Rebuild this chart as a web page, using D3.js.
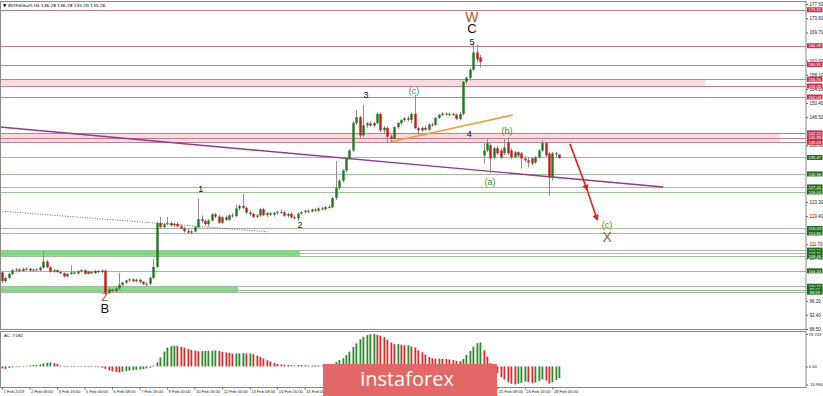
<!DOCTYPE html>
<html>
<head>
<meta charset="utf-8">
<script src="https://cdn.jsdelivr.net/npm/d3@7"></script>
<style>
  html, body { margin: 0; padding: 0; background: #fff; }
  svg { display: block; font-family: "Liberation Sans", Arial, sans-serif; }
</style>
</head>
<body>
<svg id="chart" width="823" height="396"></svg>
<script>
// ETH H4 candles (one entry per bar, 1 Feb 00:00 .. 28 Feb 08:00)
const opens = [
  104.0,101.6,102.5,103.6,104.6,104.8,104.4,104.9,105.0,104.5,
  104.8,104.6,105.3,107.0,105.4,104.2,104.6,104.1,103.8,102.9,
  103.6,104.0,103.7,104.3,104.6,103.6,104.2,103.8,104.4,104.1,
  104.5,98.4,99.3,98.9,99.6,100.6,101.2,101.8,102.1,101.6,
  102.0,101.4,100.8,100.9,102.5,105.5,117.5,116.4,117.2,117.5,
  116.9,117.3,116.6,116.0,115.3,114.9,115.2,116.4,118.6,118.1,
  117.2,118.2,119.9,119.3,117.6,119.1,118.4,119.6,119.4,121.5,
  122.2,121.7,120.4,120.0,119.2,119.6,121.3,119.7,120.2,119.8,
  120.3,120.6,120.4,119.5,120.0,119.1,118.8,120.1,120.5,120.9,
  120.7,121.2,120.9,121.5,121.3,121.9,121.8,124.4,127.2,129.1,
  131.9,135.2,137.4,144.9,146.5,141.5,144.3,144.8,144.2,144.9,
  147.4,142.9,143.6,141.2,140.6,143.8,144.9,145.7,146.2,145.8,
  147.4,143.5,142.9,143.6,143.1,144.5,144.4,146.3,147.1,147.5,
  147.3,147.4,147.2,146.0,147.4,156.2,157.3,159.5,164.2,162.9,
  136.0,137.4,138.8,135.5,138.0,137.4,136.6,139.6,137.4,135.5,
  136.9,136.6,135.2,134.7,135.2,134.1,135.5,137.4,139.4,136.6,
  130.0,136.6,136.28
];
const highs = [
  104.3,102.8,103.9,105.0,105.2,105.1,105.3,105.4,105.2,105.0,
  105.1,105.6,109.8,107.4,105.7,104.9,104.8,104.5,104.0,103.8,
  105.9,104.4,104.6,104.9,104.8,104.5,104.4,104.7,104.6,104.8,
  104.7,99.8,99.6,100.0,103.9,101.4,102.0,102.4,102.4,102.3,
  102.2,101.6,101.2,102.9,107.6,117.9,119.2,117.6,119.2,118.0,
  117.6,117.8,117.2,116.5,115.9,115.6,116.8,124.2,119.6,118.4,
  118.6,120.3,120.4,119.7,119.4,119.6,119.9,120.2,122.6,122.6,
  125.5,122.0,121.0,120.4,120.0,121.6,121.7,120.5,120.6,120.5,
  121.0,121.2,121.0,120.3,120.5,119.6,120.4,120.8,121.2,121.3,
  121.5,121.6,121.8,122.0,122.2,122.5,124.7,134.5,129.5,132.3,
  135.6,137.8,145.5,148.5,146.9,149.9,145.2,145.5,145.1,147.8,
  147.8,144.1,144.0,141.8,144.0,145.2,146.0,146.5,146.8,147.8,
  152.6,143.8,143.9,144.2,144.8,145.0,146.6,147.5,147.9,147.8,
  147.8,147.7,147.6,147.9,156.5,157.6,160.0,167.0,166.4,163.5,
  139.4,140.7,139.4,138.5,138.6,137.9,140.7,141.0,138.0,137.4,
  137.2,137.0,135.8,135.6,135.6,135.8,137.8,140.2,139.8,137.0,
  137.0,137.0,136.28
];
const lows = [
  101.0,101.2,102.2,103.3,104.0,104.1,104.2,104.5,104.2,104.1,
  104.3,104.4,105.0,105.2,104.0,103.9,103.9,103.5,102.6,102.7,
  103.3,103.4,103.5,104.0,103.4,103.4,103.5,103.6,103.7,103.8,
  97.9,98.0,98.6,98.5,99.2,100.0,100.9,101.4,101.3,101.2,
  101.1,100.5,100.2,100.6,102.2,105.2,116.0,116.0,116.8,116.6,
  116.4,116.3,115.8,114.9,114.5,114.4,115.0,116.1,117.6,116.8,
  116.5,117.9,118.8,117.3,117.2,118.0,118.1,119.0,119.1,121.0,
  121.3,120.0,119.5,118.9,118.8,119.2,119.4,119.2,119.4,119.3,
  119.8,120.0,119.2,119.0,118.7,118.4,118.1,119.8,120.1,120.3,
  120.4,120.6,120.6,121.0,121.0,121.5,121.6,123.8,126.5,128.6,
  131.5,134.8,137.0,144.4,140.8,141.0,143.6,143.9,143.7,144.5,
  142.4,142.1,139.6,139.7,140.3,143.3,144.4,145.2,145.4,144.8,
  143.3,141.6,142.5,142.8,142.7,143.9,144.1,146.0,146.7,146.9,
  146.8,146.9,145.8,145.6,147.0,155.5,156.6,159.2,161.5,160.1,
  133.8,136.9,131.1,135.0,136.2,135.0,136.1,136.2,135.0,135.2,
  135.5,132.4,134.2,132.7,133.4,133.7,135.2,137.0,135.6,125.0,
  129.1,135.5,135.20
];
const closes = [
  101.6,102.5,103.6,104.6,104.8,104.4,104.9,105.0,104.5,104.8,
  104.6,105.3,107.0,105.4,104.2,104.6,104.1,103.8,102.9,103.6,
  104.0,103.7,104.3,104.6,103.6,104.2,103.8,104.4,104.1,104.5,
  98.4,99.3,98.9,99.6,100.6,101.2,101.8,102.1,101.6,102.0,
  101.4,100.8,100.9,102.5,105.5,117.5,116.4,117.2,117.5,116.9,
  117.3,116.6,116.0,115.3,114.9,115.2,116.4,118.6,118.1,117.2,
  118.2,119.9,119.3,117.6,119.1,118.4,119.6,119.4,121.5,122.2,
  121.7,120.4,120.0,119.2,119.6,121.3,119.7,120.2,119.8,120.3,
  120.6,120.4,119.5,120.0,119.1,118.8,120.1,120.5,120.9,120.7,
  121.2,120.9,121.5,121.3,121.9,121.8,124.4,127.2,129.1,131.9,
  135.2,137.4,144.9,146.5,141.5,144.3,144.8,144.2,144.9,147.4,
  142.9,143.6,141.2,140.6,143.8,144.9,145.7,146.2,145.8,147.4,
  143.5,142.9,143.6,143.1,144.5,144.4,146.3,147.1,147.5,147.3,
  147.4,147.2,146.0,147.4,156.2,157.3,159.5,164.2,162.3,161.6,
  137.4,139.4,135.2,138.0,136.6,135.5,138.2,136.6,135.5,136.9,
  136.0,135.2,134.7,134.1,133.8,135.5,137.4,139.4,136.0,130.0,
  136.6,136.3,135.26
];

// Accelerator oscillator, one value per bar
const acValues = [
  -1.2,-1.5,-1.0,-0.6,-0.4,-0.5,0.3,0.4,0.6,0.8,
  1.0,1.2,1.8,2.2,2.4,2.0,1.5,0.5,0.3,0.2,
  0.1,-0.1,0.1,0.2,0.1,-0.1,-0.2,-0.3,-0.4,-0.8,
  -1.5,-2.4,-3.0,-3.4,-3.6,-3.2,-2.8,-2.5,-2.3,-2.0,
  -1.9,-1.6,-1.2,-0.8,0.5,2.5,5.5,9.0,11.5,12.3,
  12.5,12.4,12.0,11.4,10.6,10.0,9.6,9.2,9.3,9.4,
  9.5,9.6,9.7,9.4,8.9,8.5,8.2,7.8,7.9,8.0,
  8.1,7.8,7.9,7.4,6.6,5.8,4.8,3.8,3.0,2.2,
  1.6,1.2,1.0,0.8,0.7,0.6,0.7,0.8,0.7,0.6,
  0.6,0.7,0.6,0.5,0.6,0.7,1.2,2.7,3.9,5.0,
  6.8,9.0,11.8,14.0,16.5,18.0,19.0,19.6,19.703,19.3,
  18.7,17.8,16.2,14.6,13.5,13.6,13.2,12.8,12.9,12.1,
  11.5,9.8,8.6,7.2,5.8,5.0,4.7,4.8,4.6,4.5,
  4.2,3.9,3.4,3.2,4.5,7.0,9.4,12.0,14.1,14.6,
  9.8,6.0,2.0,-1.5,-4.0,-6.5,-8.0,-9.5,-10.5,-10.984,
  -10.5,-10.0,-9.2,-9.6,-10.2,-9.8,-8.9,-7.9,-8.6,-10.4,
  -9.7,-8.3,-7.082
];

// time scale labels that show (the ones under the watermark are left out)
const timeTickBars = [0, 8, 16, 24, 32, 40, 48, 56, 64, 72, 80, 88, 144, 152, 160];
const timeLabels = [
  '1 Feb 2019','2 Feb 08:00','3 Feb 16:00','5 Feb 00:00','6 Feb 08:00','7 Feb 16:00',
  '9 Feb 00:00','10 Feb 16:00','12 Feb 00:00','13 Feb 08:00','14 Feb 16:00','16 Feb 00:00',
  '25 Feb 08:00','26 Feb 16:00','28 Feb 00:00'
];
// price scale labels that are not hidden under the level tags
const priceTickLabels = [
  '177.50','173.60','169.70','162.00','158.10','154.20','150.40','146.50',
  '138.80','123.30','119.40','111.70','107.80','96.20','92.40','88.50'
];
const acTickLabels = ['19.703', '0.00', '-10.984'];

// horizontal levels
const resistLevels = [175.92, 166.08, 160.91, 156.91, 155.06, 152.03, 142.22, 140.89, 139.63];
const supportLevels = [135.47, 130.96, 127.41, 126.03, 116.03, 114.80, 110.11, 109.31, 108.46, 104.43, 100.21, 99.31, 98.59];
// zones: [low, high, last bar index covered]
const resistZones = [[155.06, 156.91, 204.4], [139.63, 142.22, 226.2]];
const supportZones = [[108.46, 110.11, 86.6], [98.59, 100.21, 68.6]];

// drawn lines: [bar index, price]
const purpleLine = [[-0.6, 143.8], [192.2, 127.4]];
const dottedLine = [[-0.6, 120.8], [77.3, 115.1]];
const orangeLine = [[112.8, 139.7], [148.5, 147.1]];
const arrowPoints = [[165.1, 139.2], [170.1, 126.6], [173.0, 118.4]];

// wave labels: [text, bar index, price, kind]
const waveLabels = [
  ['W', 136.6, 173.9, 'brown'],
  ['C', 136.6, 170.7, 'major'],
  ['5', 136.6, 167.1, 'minor'],
  ['3', 105.8, 152.6, 'minor'],
  ['(c)', 119.8, 153.7, 'sub'],
  ['4', 135.8, 141.9, 'minor'],
  ['(b)', 146.8, 142.7, 'sub'],
  ['(a)', 141.9, 128.8, 'sub'],
  ['1', 57.8, 126.8, 'minor'],
  ['2', 86.6, 117.0, 'minor'],
  ['Z', 29.9, 97.3, 'brownSmall'],
  ['B', 29.9, 94.0, 'major'],
  ['(c)', 175.9, 117.0, 'sub'],
  ['X', 175.9, 113.7, 'brown']
];

const svg = d3.select('#chart');
const plotRight = 806;
const mainTop = 1.5, mainBottom = 329.5;
const acTop = 331.5, acBottom = 387.5;

const x = d3.scaleLinear().domain([0, 233]).range([2, 803.5]);
const y = d3.scaleLinear().domain([88.5, 177.5]).range([329, 4]);
const yAc = d3.scaleLinear().domain([-10.984, 19.703]).range([384.5, 334]);

const defs = svg.append('defs');
defs.append('clipPath').attr('id', 'clipMain')
  .append('rect').attr('x', 0).attr('y', mainTop).attr('width', plotRight).attr('height', mainBottom - mainTop);
defs.append('marker')
  .attr('id', 'arrowHead')
  .attr('viewBox', '0 0 10 10')
  .attr('refX', 8).attr('refY', 5)
  .attr('markerWidth', 4).attr('markerHeight', 4)
  .attr('orient', 'auto')
  .append('path').attr('d', 'M0,0 L10,5 L0,10 z').attr('fill', '#e3201b');

const main = svg.append('g').attr('clip-path', 'url(#clipMain)');

// zones
main.selectAll('.rzone').data(resistZones).enter().append('rect')
  .attr('x', 0).attr('y', d => y(d[1]))
  .attr('width', d => x(d[2]))
  .attr('height', d => y(d[0]) - y(d[1]))
  .attr('fill', '#f9dadf');
main.selectAll('.szone').data(supportZones).enter().append('rect')
  .attr('x', 0).attr('y', d => y(d[1]))
  .attr('width', d => x(d[2]))
  .attr('height', d => y(d[0]) - y(d[1]))
  .attr('fill', '#7ee07e');

// level lines
main.selectAll('.rline').data(resistLevels).enter().append('line')
  .attr('x1', 0).attr('x2', plotRight)
  .attr('y1', d => Math.round(y(d)) + 0.5).attr('y2', d => Math.round(y(d)) + 0.5)
  .attr('stroke', '#c27d90').attr('stroke-width', 1);
main.selectAll('.sline').data(supportLevels).enter().append('line')
  .attr('x1', 0).attr('x2', plotRight)
  .attr('y1', d => Math.round(y(d)) + 0.5).attr('y2', d => Math.round(y(d)) + 0.5)
  .attr('stroke', '#9dbd9d').attr('stroke-width', 1);

const line = d3.line().x(d => x(d[0])).y(d => y(d[1]));

main.append('path').attr('d', line(dottedLine))
  .attr('fill', 'none').attr('stroke', '#666').attr('stroke-width', 1)
  .attr('stroke-dasharray', '1,1.5');
main.append('path').attr('d', line(purpleLine))
  .attr('fill', 'none').attr('stroke', '#8e3a92').attr('stroke-width', 1.4);
main.append('path').attr('d', line(orangeLine))
  .attr('fill', 'none').attr('stroke', '#f0a033').attr('stroke-width', 1.6);

// candles
const bars = d3.range(opens.length);
const candle = main.selectAll('.candle').data(bars).enter().append('g');
candle.append('line')
  .attr('x1', i => Math.round(x(i)) + 0.5).attr('x2', i => Math.round(x(i)) + 0.5)
  .attr('y1', i => y(highs[i])).attr('y2', i => y(lows[i]))
  .attr('stroke', '#8f8f8f').attr('stroke-width', 1);
candle.append('rect')
  .attr('x', i => Math.round(x(i)) - 0.7)
  .attr('width', 2.4)
  .attr('y', i => y(Math.max(opens[i], closes[i])))
  .attr('height', i => Math.max(1, Math.abs(y(opens[i]) - y(closes[i]))))
  .attr('fill', i => closes[i] >= opens[i] ? '#1f7a1f' : '#c01c1c');

// red projection arrow
for (let k = 0; k < arrowPoints.length - 1; k++) {
  main.append('path')
    .attr('d', line([arrowPoints[k], arrowPoints[k + 1]]))
    .attr('fill', 'none').attr('stroke', '#e3201b').attr('stroke-width', 1.6)
    .attr('marker-end', 'url(#arrowHead)');
}

// wave labels
const labelStyle = {
  brown: { color: '#a75a33', size: 14 },
  brownSmall: { color: '#a75a33', size: 11 },
  major: { color: '#111', size: 13 },
  minor: { color: '#111', size: 9 },
  sub: { color: '#3c8c3c', size: 9 }
};
main.selectAll('.wave').data(waveLabels).enter().append('text')
  .attr('x', d => x(d[1])).attr('y', d => y(d[2]))
  .attr('text-anchor', 'middle').attr('dominant-baseline', 'central')
  .attr('fill', d => labelStyle[d[3]].color)
  .attr('font-size', d => labelStyle[d[3]].size)
  .text(d => d[0]);

// title
svg.append('text').attr('x', 3).attr('y', 6.5).attr('font-size', 4.3).attr('fill', '#000')
  .attr('font-family', 'DejaVu Sans, sans-serif')
  .text('\u25BC #Ethereum,H4  136.28 136.28 135.20 135.26');

// AC panel
const acBars = svg.append('g');
acBars.selectAll('rect').data(bars).enter().append('rect')
  .attr('x', i => Math.round(x(i)) - 0.5)
  .attr('width', 1.8)
  .attr('y', i => Math.min(yAc(0), yAc(acValues[i])))
  .attr('height', i => Math.max(0.6, Math.abs(yAc(acValues[i]) - yAc(0))))
  .attr('fill', i => (i > 0 && acValues[i] > acValues[i - 1]) ? '#2a8a2a' : '#cf2e2e');
svg.append('text').attr('x', 4).attr('y', 337).attr('font-size', 4.2).attr('fill', '#000')
  .text('AC -7.082');

// frames
svg.append('rect').attr('x', 0.5).attr('y', mainTop)
  .attr('width', plotRight - 0.5).attr('height', mainBottom - mainTop)
  .attr('fill', 'none').attr('stroke', '#8a8a8a');
svg.append('rect').attr('x', 0.5).attr('y', acTop)
  .attr('width', plotRight - 0.5).attr('height', acBottom - acTop)
  .attr('fill', 'none').attr('stroke', '#8a8a8a');

// price axis
const priceAxis = svg.append('g').attr('transform', `translate(${plotRight},0)`)
  .call(d3.axisRight(y)
    .tickValues(priceTickLabels.map(Number))
    .tickFormat((d, i) => priceTickLabels[i])
    .tickSize(2).tickPadding(1.5));
priceAxis.select('.domain').remove();
priceAxis.selectAll('line').attr('stroke', '#666');
priceAxis.selectAll('text').attr('font-size', 4.5).attr('fill', '#222')
  .attr('font-family', 'Liberation Sans, Arial, sans-serif');

// level price tags
function tags(levels, color) {
  const g = svg.selectAll(null).data(levels).enter().append('g')
    .attr('transform', d => `translate(${plotRight + 1},${y(d)})`);
  g.append('rect').attr('x', 0).attr('y', -2.5).attr('width', 15.5).attr('height', 5)
    .attr('fill', color);
  g.append('text').attr('x', 7.8).attr('y', 0.2)
    .attr('text-anchor', 'middle').attr('dominant-baseline', 'central')
    .attr('font-size', 4.2).attr('fill', '#fff')
    .text(d => d.toFixed(2));
}
tags(resistLevels, '#c9314f');
tags(supportLevels, '#1f6e1f');

// AC axis
const acAxis = svg.append('g').attr('transform', `translate(${plotRight},0)`)
  .call(d3.axisRight(yAc)
    .tickValues(acTickLabels.map(Number))
    .tickFormat((d, i) => acTickLabels[i])
    .tickSize(2).tickPadding(0.8));
acAxis.select('.domain').remove();
acAxis.selectAll('line').attr('stroke', '#666');
acAxis.selectAll('text').attr('font-size', 4.1).attr('fill', '#222');

// time axis
const timeAxis = svg.append('g').attr('transform', `translate(0,${acBottom})`)
  .call(d3.axisBottom(x)
    .tickValues(timeTickBars)
    .tickFormat((d, k) => timeLabels[k])
    .tickSize(2).tickPadding(1));
timeAxis.select('.domain').remove();
timeAxis.selectAll('line').attr('stroke', '#666');
timeAxis.selectAll('text').attr('font-size', 4.1).attr('fill', '#222')
  .attr('text-anchor', 'start').attr('dx', 1);

// watermark
const logo = svg.append('g');
logo.append('rect').attr('x', 323).attr('y', 364).attr('width', 174).attr('height', 32)
  .attr('fill', '#e26868');
logo.append('text').attr('x', 407).attr('y', 386)
  .attr('text-anchor', 'middle').attr('font-size', 20)
  .attr('font-family', 'Open Sans, sans-serif').attr('fill', '#fff')
  .text('instaforex');
</script>
</body>
</html>
